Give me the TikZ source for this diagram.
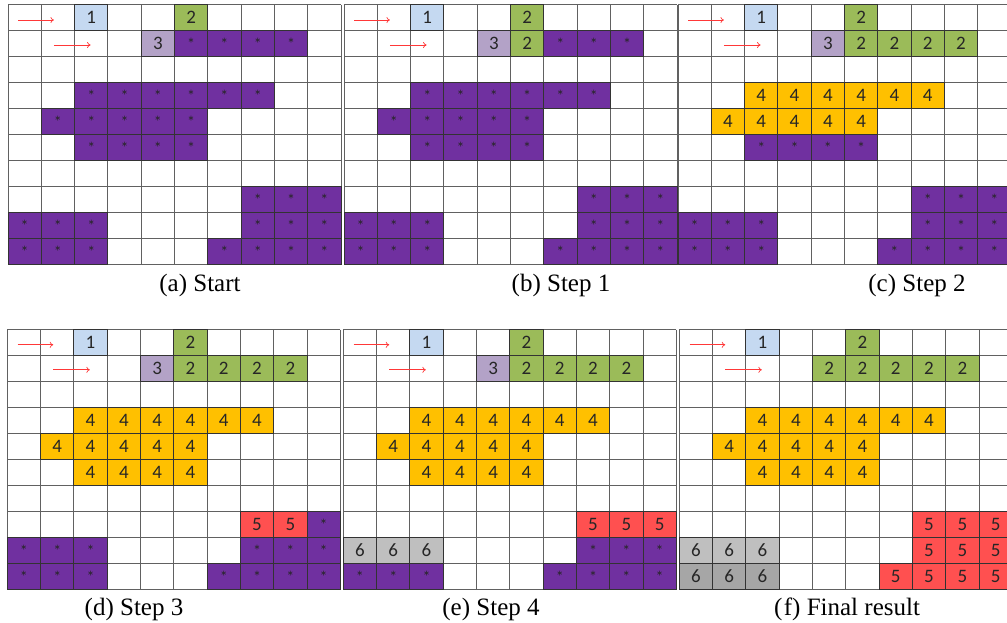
\documentclass[tikz,border=0pt]{standalone}
\usepackage{fontspec}
\setmainfont{Liberation Serif}
\newfontfamily\cellfont{Carlito}
\usetikzlibrary{arrows.meta}

\definecolor{blueone}{HTML}{C5D9F1}
\definecolor{greentwo}{HTML}{9BBB59}
\definecolor{purplethree}{HTML}{B3A2C7}
\definecolor{purplestar}{HTML}{7030A0}
\definecolor{orangefour}{HTML}{FFC000}
\definecolor{redfive}{HTML}{FF5050}
\definecolor{graysix}{HTML}{BFBFBF}
\definecolor{graydark}{HTML}{A6A6A6}
\definecolor{runred}{HTML}{FF3838}

\tikzset{
  gridline/.style={black!62, line width=0.9pt},
  cellbox/.style={draw=black!80, line width=0.9pt, minimum width=33.3pt,
    minimum height=26pt, inner sep=0pt, text=black!85,
    font=\cellfont\fontsize{19}{19}\selectfont},
  starbox/.style={cellbox, fill=purplestar, font=\cellfont\fontsize{16}{16}\selectfont},
  runarrow/.style={runred, line width=0.7pt, -{To[length=3.5pt,width=6pt]}},
  caption/.style={anchor=base, font=\fontsize{25}{25}\selectfont},
}

% one 10x10 panel: #1 name, #2 top-left corner, #3 star runs, #4 numbered runs
\newcommand{\gridpanel}[4]{%
  \begin{scope}[shift={#2}, x=33.3pt, y=-26pt]
    % grid
    \foreach \k in {0,...,10} {
      \draw[gridline] (\k,0) -- (\k,10);
      \draw[gridline] (0,\k) -- (10,\k);
    }
    % scan arrows
    \coordinate (#1-s1) at (0.31,0.59);
    \coordinate (#1-e1) at (1.38,0.59);
    \coordinate (#1-s2) at (1.38,1.55);
    \coordinate (#1-e2) at (2.48,1.55);
    \draw[runarrow] (#1-s1) -- (#1-e1);
    \draw[runarrow] (#1-s2) -- (#1-e2);
    % labelled cells
    \foreach \rw/\ca/\cb/\fc/\lb in {#4}
      \foreach \cl in {\ca,...,\cb}
        \node[cellbox, fill=\fc] (#1-\cl-\rw) at (\cl+0.5,\rw+0.5) {\lb};
    % unlabelled cells
    \foreach \rw/\ca/\cb in {#3}
      \foreach \cl in {\ca,...,\cb}
        \node[starbox] (#1-\cl-\rw) at (\cl+0.5,\rw+0.5) {*};
  \end{scope}
}

\begin{document}
\begin{tikzpicture}[x=1pt, y=-1pt]
  \useasboundingbox (0,0) rectangle (1007,623);
  \clip (0,0) rectangle (1007,623);

  % (a) Start
  \gridpanel{a}{(8,4.7)}
    {1/5/8, 3/2/7, 4/1/5, 5/2/5, 7/7/9, 8/0/2, 8/7/9, 9/0/2, 9/6/9}
    {0/2/2/blueone/1, 0/5/5/greentwo/2, 1/4/4/purplethree/3}
  % (b) Step 1
  \gridpanel{b}{(344,4.7)}
    {1/6/8, 3/2/7, 4/1/5, 5/2/5, 7/7/9, 8/0/2, 8/7/9, 9/0/2, 9/6/9}
    {0/2/2/blueone/1, 0/5/5/greentwo/2, 1/4/4/purplethree/3, 1/5/5/greentwo/2}
  % (c) Step 2
  \gridpanel{c}{(678,4.7)}
    {5/2/5, 7/7/9, 8/0/2, 8/7/9, 9/0/2, 9/6/9}
    {0/2/2/blueone/1, 0/5/5/greentwo/2, 1/4/4/purplethree/3, 1/5/8/greentwo/2,
     3/2/7/orangefour/4, 4/1/5/orangefour/4}
  % (d) Step 3
  \gridpanel{d}{(7.3,329.5)}
    {7/9/9, 8/0/2, 8/7/9, 9/0/2, 9/6/9}
    {0/2/2/blueone/1, 0/5/5/greentwo/2, 1/4/4/purplethree/3, 1/5/8/greentwo/2,
     3/2/7/orangefour/4, 4/1/5/orangefour/4, 5/2/5/orangefour/4, 7/7/8/redfive/5}
  % (e) Step 4
  \gridpanel{e}{(343.3,329.5)}
    {8/7/9, 9/0/2, 9/6/9}
    {0/2/2/blueone/1, 0/5/5/greentwo/2, 1/4/4/purplethree/3, 1/5/8/greentwo/2,
     3/2/7/orangefour/4, 4/1/5/orangefour/4, 5/2/5/orangefour/4, 7/7/9/redfive/5,
     8/0/2/graysix/6}
  % (f) Final result
  \gridpanel{f}{(679.3,329.5)}
    {}
    {0/2/2/blueone/1, 0/5/5/greentwo/2, 1/4/8/greentwo/2,
     3/2/7/orangefour/4, 4/1/5/orangefour/4, 5/2/5/orangefour/4,
     7/7/9/redfive/5, 8/7/9/redfive/5, 9/6/9/redfive/5,
     8/0/2/graysix/6, 9/0/2/graydark/6}

  % captions
  \node[caption] (cap-a) at (200,291) {(a) Start};
  \node[caption] (cap-b) at (561,291) {(b) Step 1};
  \node[caption] (cap-c) at (917,291) {(c) Step 2};
  \node[caption] (cap-d) at (134,615) {(d) Step 3};
  \node[caption] (cap-e) at (491,615) {(e) Step 4};
  \node[caption] (cap-f) at (847,615) {(\kern1.5pt f) Final result};
\end{tikzpicture}
\end{document}
